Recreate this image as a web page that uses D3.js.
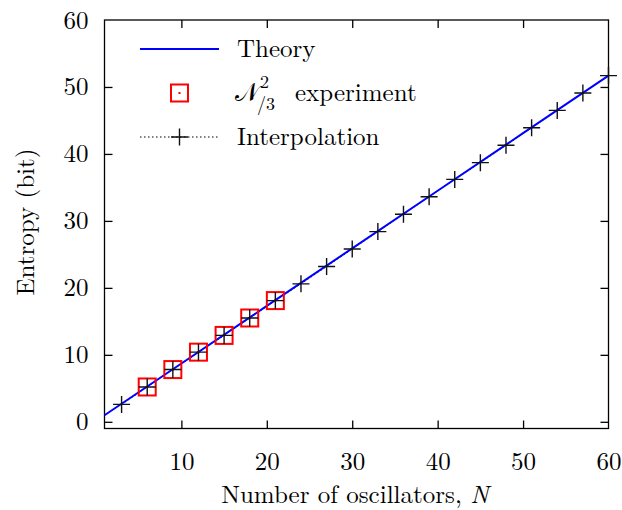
<!DOCTYPE html>
<html><head><meta charset="utf-8">
<script src="https://cdn.jsdelivr.net/npm/d3@7"></script>
<style>html,body{margin:0;padding:0;background:#fff;}</style>
</head>
<body>
<svg id="chart" width="622" height="510"></svg>
<script>
// ---- data ----
const theoryN = [1, 10, 20, 30, 40, 50, 60];
const theoryS = [0.98, 8.7, 17.3, 25.9, 34.5, 43.1, 51.7];
const expN = [6, 9, 12, 15, 18, 21];
const expS = [5.2, 7.8, 10.4, 12.9, 15.5, 18.1];
const interpN = [3, 6, 9, 12, 15, 18, 21, 24, 27, 30, 33, 36, 39, 42, 45, 48, 51, 54, 57, 60];
const interpS = [2.6, 5.2, 7.8, 10.4, 12.9, 15.5, 18.1, 20.6, 23.2, 25.8, 28.4, 31.0, 33.6, 36.2, 38.7, 41.3, 43.9, 46.5, 49.1, 51.7];
const xTicks = [10, 20, 30, 40, 50, 60];
const yTicks = [0, 10, 20, 30, 40, 50, 60];
const legendLabels = ["Theory", "experiment", "Interpolation"];

// ---- layout ----
const FONT = '"Latin Modern Roman","CMU Serif","Liberation Serif",serif';
const FS = 25;
const svg = d3.select("#chart");
const L = 104.5, R = 608.5, T = 20, B = 428.5;
const x = d3.scaleLinear().domain([1, 60]).range([L, R]);
const y = d3.scaleLinear().domain([-1, 60]).range([B, T]);

svg.append("rect").attr("x", L).attr("y", T).attr("width", R - L).attr("height", B - T)
  .attr("fill", "none").attr("stroke", "#000").attr("stroke-width", 1.3);

const tickLen = 8;
const gx = svg.append("g").attr("transform", `translate(0,${B})`)
  .call(d3.axisBottom(x).tickValues(xTicks).tickSizeInner(-tickLen).tickSizeOuter(0).tickPadding(24));
const gxt = svg.append("g").attr("transform", `translate(0,${T})`)
  .call(d3.axisTop(x).tickValues(xTicks).tickSizeInner(-tickLen).tickSizeOuter(0).tickFormat(""));
const gy = svg.append("g").attr("transform", `translate(${L},0)`)
  .call(d3.axisLeft(y).tickValues(yTicks).tickSizeInner(-tickLen).tickSizeOuter(0).tickPadding(16));
const gyr = svg.append("g").attr("transform", `translate(${R},0)`)
  .call(d3.axisRight(y).tickValues(yTicks).tickSizeInner(-tickLen).tickSizeOuter(0).tickFormat(""));
[gx, gxt, gy, gyr].forEach(g => {
  g.select(".domain").remove();
  g.selectAll("line").attr("stroke", "#000").attr("stroke-width", 1.3);
  g.selectAll("text").style("font-size", FS + "px").style("font-family", FONT).attr("fill", "#000");
});
gxt.selectAll(".tick").filter(d => d === 60).remove();
gyr.selectAll(".tick").filter(d => d === 60).remove();
gy.selectAll(".tick").filter(d => d === 60).select("line").remove();
gx.selectAll(".tick").filter(d => d === 60).select("line").remove();
gx.selectAll("text").attr("dy", "0.71em");

const txt = sel => sel.style("font-family", FONT).style("font-size", FS + "px").attr("fill", "#000");

// axis titles
const xl = svg.append("text").attr("x", 355).attr("y", 503).attr("text-anchor", "middle").call(txt);
xl.append("tspan").text("Number of oscillators, ");
xl.append("tspan").style("font-style", "italic").text("N");
svg.append("text").attr("transform", "translate(34,222) rotate(-90)").attr("text-anchor", "middle")
  .call(txt).text("Entropy (bit)");

// ---- marks ----
const plot = svg.append("g");
const interpPts = interpN.map((n, i) => [n, interpS[i]]);
const theoryPts = theoryN.map((n, i) => [n, theoryS[i]]);
const expPts = expN.map((n, i) => [n, expS[i]]);
const line = d3.line().x(d => x(d[0])).y(d => y(d[1]));

plot.append("path").datum(interpPts).attr("d", line).attr("fill", "none")
  .attr("stroke", "#000").attr("stroke-width", 1).attr("stroke-dasharray", "1.5,2.5");
plot.append("path").datum(theoryPts).attr("d", line).attr("fill", "none")
  .attr("stroke", "#0000ff").attr("stroke-width", 2);

const SQ = 17;
plot.selectAll("rect.exp").data(expPts).join("rect").attr("class", "exp")
  .attr("x", d => x(d[0]) - SQ / 2).attr("y", d => y(d[1]) - SQ / 2)
  .attr("width", SQ).attr("height", SQ).attr("fill", "none")
  .attr("stroke", "#ff0000").attr("stroke-width", 2);
plot.selectAll("rect.dot").data(expPts).join("rect").attr("class", "dot")
  .attr("x", d => x(d[0]) - 1).attr("y", d => y(d[1]) - 1).attr("width", 2).attr("height", 2).attr("fill", "#ff0000");

const P = 8.5;
const plus = d => `M${x(d[0]) - P},${y(d[1])}H${x(d[0]) + P}M${x(d[0])},${y(d[1]) - P}V${y(d[1]) + P}`;
plot.selectAll("path.plus").data(interpPts).join("path").attr("class", "plus")
  .attr("d", plus).attr("stroke", "#111").attr("stroke-width", 1.4).attr("fill", "none");

// ---- legend ----
const lg = svg.append("g");
const lx0 = 140, lx1 = 219, tx = 237;
const rows = [49, 93, 137];
lg.append("line").attr("x1", lx0).attr("x2", lx1).attr("y1", rows[0]).attr("y2", rows[0])
  .attr("stroke", "#0000ff").attr("stroke-width", 2);
lg.append("text").attr("x", tx).attr("y", rows[0] + 8).call(txt).text(legendLabels[0]);

const cx = (lx0 + lx1) / 2;
lg.append("rect").attr("x", cx - SQ / 2).attr("y", rows[1] - SQ / 2).attr("width", SQ).attr("height", SQ)
  .attr("fill", "none").attr("stroke", "#ff0000").attr("stroke-width", 2);
lg.append("rect").attr("x", cx - 1).attr("y", rows[1] - 1).attr("width", 2).attr("height", 2).attr("fill", "#ff0000");
const nSym = lg.append("text").attr("x", tx - 2).attr("y", rows[1] + 8).call(txt).text("𝒩");
const nw = nSym.node().getComputedTextLength();
lg.append("text").attr("x", tx - 2 + nw + 1).attr("y", rows[1] - 5).call(txt).style("font-size", "18px").text("2");
lg.append("text").attr("x", tx - 2 + nw - 2).attr("y", rows[1] + 17).call(txt).style("font-size", "18px").text("/3");
lg.append("text").attr("x", 295).attr("y", rows[1] + 8).call(txt).text(legendLabels[1]);

lg.append("line").attr("x1", lx0).attr("x2", lx1).attr("y1", rows[2]).attr("y2", rows[2])
  .attr("stroke", "#000").attr("stroke-width", 1).attr("stroke-dasharray", "1.5,2.5");
lg.append("path").attr("d", `M${cx - P},${rows[2]}H${cx + P}M${cx},${rows[2] - P}V${rows[2] + P}`)
  .attr("stroke", "#111").attr("stroke-width", 1.4);
lg.append("text").attr("x", tx).attr("y", rows[2] + 8).call(txt).text(legendLabels[2]);
</script>
</body></html>
